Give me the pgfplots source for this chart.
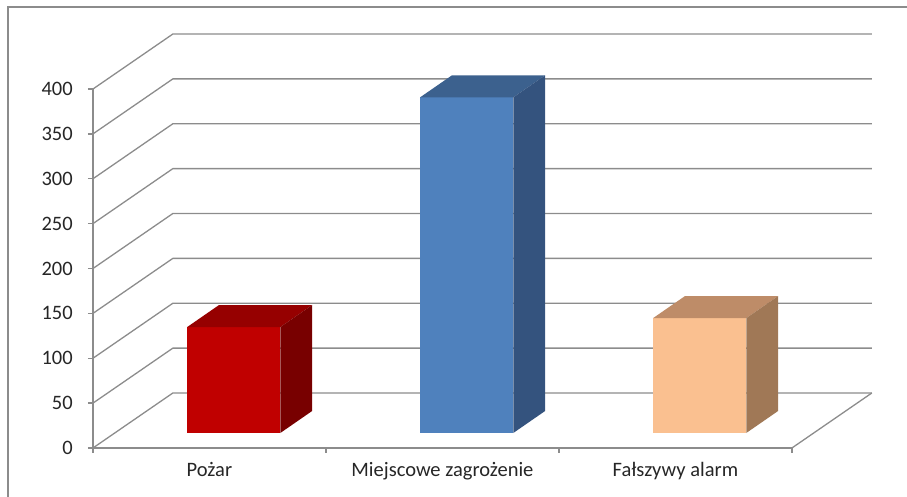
\documentclass[border=0pt]{standalone}
\usepackage{pgfplots}
\pgfplotsset{compat=1.18}
\usepackage{fontspec}
\setmainfont{Carlito}
\definecolor{gridc}{HTML}{8C8C8C}
\definecolor{labc}{HTML}{262626}
\definecolor{rF}{HTML}{C00000}\definecolor{rT}{HTML}{960000}\definecolor{rS}{HTML}{780000}
\definecolor{bF}{HTML}{4F81BD}\definecolor{bT}{HTML}{3C618E}\definecolor{bS}{HTML}{34537E}
\definecolor{pF}{HTML}{FAC090}\definecolor{pT}{HTML}{BE8C68}\definecolor{pS}{HTML}{A07856}
% depth geometry (axis units)
\def\dX{0.343}\def\dY{61.3}
\def\fx{0.104}\def\fy{16.7}\def\bx{0.241}\def\by{41.3}\def\bw{0.2}
% 3-D bar: #1 category centre, #2 value, #3 front, #4 top, #5 side colour
\newcommand\barthreed[5]{%
  \pgfmathsetmacro\xl{#1-\bw+\fx}\pgfmathsetmacro\xr{#1+\bw+\fx}%
  \pgfmathsetmacro\xlb{#1-\bw+\bx}\pgfmathsetmacro\xrb{#1+\bw+\bx}%
  \pgfmathsetmacro\yt{#2+\fy}\pgfmathsetmacro\ytb{#2+\by}%
  \addplot[fill=#3,draw=none] coordinates {(\xl,\fy) (\xr,\fy) (\xr,\yt) (\xl,\yt)} -- cycle;
  \addplot[fill=#4,draw=none] coordinates {(\xl,\yt) (\xr,\yt) (\xrb,\ytb) (\xlb,\ytb)} -- cycle;
  \addplot[fill=#5,draw=none] coordinates {(\xr,\fy) (\xrb,\by) (\xrb,\ytb) (\xr,\yt)} -- cycle;
}
\begin{document}
\begin{tikzpicture}
\begin{axis}[
  width=699pt,height=359pt,scale only axis,
  xmin=0,xmax=3,ymin=0,ymax=400,
  clip=false,
  axis x line*=bottom, axis y line*=left,
  axis line style={gridc,line width=1.3pt,-},
  tick style={gridc,line width=1.3pt},
  tick align=outside, major tick length=5pt,
  ytick={0,50,...,400},
  xtick={0,1,2,3}, xticklabels={},
  extra x ticks={0.5,1.5,2.5},
  extra x tick labels={Pożar,Miejscowe zagrożenie,Fałszywy alarm},
  extra x tick style={major tick length=0pt, tick style={draw=none}},
  /pgf/number format/assume math mode=true,
  ticklabel style={font=\fontsize{20.5}{24}\selectfont, text=labc},
  yticklabel style={anchor=east, inner sep=0pt, xshift=-15pt},
  xticklabel style={anchor=north, inner sep=0pt, yshift=-14pt},
]
\pgfplotsinvokeforeach{0,50,...,400}{
  \draw[gridc,line width=1.3pt] (axis cs:0,#1) -- (axis cs:\dX,{#1+\dY}) -- (axis cs:{3+\dX},{#1+\dY});
}
\draw[gridc,line width=1.3pt] (axis cs:3,0) -- (axis cs:{3+\dX},\dY);
\draw[gridc,line width=1.6pt] (axis cs:-0.365,-60) -- (axis cs:-0.365,491.4) -- (axis cs:3.6,491.4);
\coordinate (BL) at (axis cs:-0.399,-53.5);
\coordinate (TR) at (axis cs:3.494,499.2);
\barthreed{0.5}{118}{rF}{rT}{rS}
\barthreed{1.5}{374}{bF}{bT}{bS}
\barthreed{2.5}{128}{pF}{pT}{pS}
\end{axis}
\pgfresetboundingbox
\path[use as bounding box] (BL) rectangle (TR);
\end{tikzpicture}
\end{document}
